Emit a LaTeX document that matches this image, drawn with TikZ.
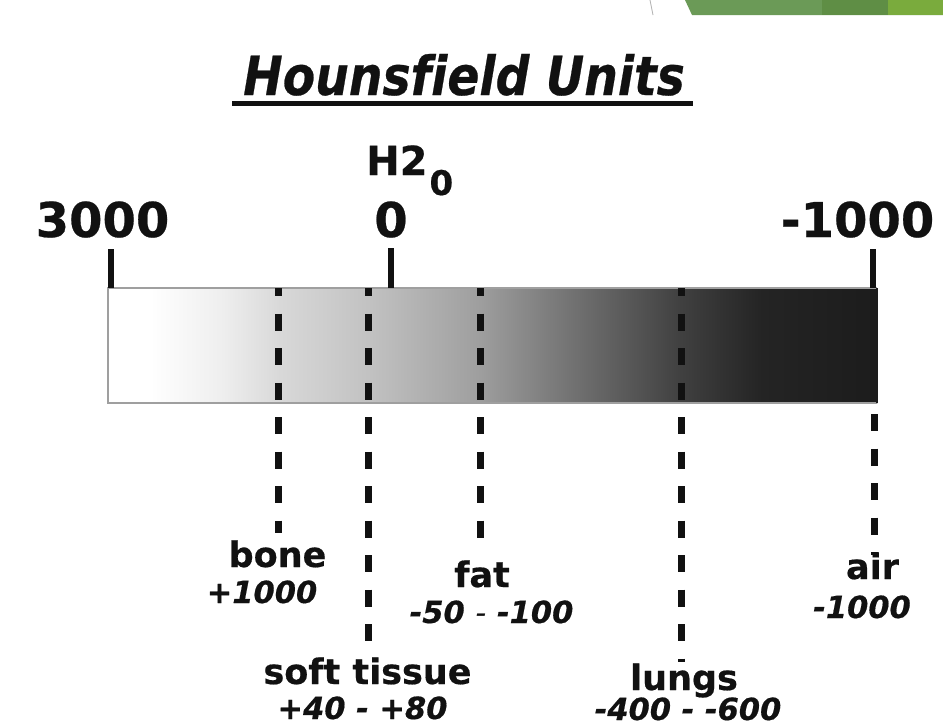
\documentclass[tikz,border=0pt]{standalone}
\usepackage{fontspec}
\setmainfont{DejaVu Sans}[Ligatures=NoCommon,BoldFeatures={FakeBold=0.5},BoldItalicFeatures={FakeBold=0.5}]
\definecolor{hbA}{HTML}{EEEEEE}
\definecolor{hbB}{HTML}{D8D8D8}
\definecolor{hbC}{HTML}{C2C2C2}
\definecolor{hbD}{HTML}{9E9E9E}
\definecolor{hbE}{HTML}{6E6E6E}
\definecolor{hbF}{HTML}{404040}
\definecolor{hbG}{HTML}{242424}
\definecolor{hbH}{HTML}{1C1C1C}
\definecolor{ink}{HTML}{111111}
\definecolor{grnA}{HTML}{6B9A57}
\definecolor{grnB}{HTML}{5F8E45}
\definecolor{grnC}{HTML}{7AAB3D}
\pgfdeclarehorizontalshading{hubar}{100bp}{color(0bp)=(white); color(25bp)=(white); color(27.75bp)=(white); color(32.5bp)=(hbA); color(36.2bp)=(hbB); color(41.9bp)=(hbC); color(49.2bp)=(hbD); color(55.7bp)=(hbE); color(62.25bp)=(hbF); color(67.5bp)=(hbG); color(75bp)=(hbH); color(100bp)=(hbH)}
\begin{document}
\begin{tikzpicture}[x=1pt,y=-1pt,
  scalelbl/.style={inner sep=0pt,outer sep=0pt,anchor=base,text=ink,font=\bfseries\fontsize{48}{48}\selectfont},
  namelbl/.style={inner sep=0pt,outer sep=0pt,anchor=base,text=ink,font=\bfseries\fontsize{35}{35}\selectfont},
  vallbl/.style={inner sep=0pt,outer sep=0pt,anchor=base,text=ink,font=\bfseries\itshape\fontsize{30.5}{30.5}\selectfont},
  tickline/.style={draw=ink,line width=6pt},
  hudash/.style={draw=ink,line width=7pt,dash pattern=on 17pt off 17.5pt,dash phase=9pt}]
\useasboundingbox (0,0) rectangle (943,726);
\fill[white] (0,0) rectangle (943,726);
% green banner top right
\fill[grnA] (685,0) -- (692,15) -- (943,15) -- (943,0) -- cycle;
\fill[grnB] (822,0) rectangle (888,15);
\fill[grnC] (888,0) rectangle (943,15);
\draw[gray!60,line width=0.8pt] (650,0) -- (653,15);
% title
\node[inner sep=0pt,anchor=base,text=ink,font=\bfseries\itshape\fontsize{54}{54}\selectfont] (title) at (464,95) {\scalebox{0.875}[1]{Hounsfield Units}};
\coordinate (ulL) at (232,103.5);
\coordinate (ulR) at (693,103.5);
\draw[ink,line width=5pt] (ulL) -- (ulR);
% scale numbers
\node[scalelbl] (n3000) at (102.5,237) {3000};
\node[scalelbl] (n0) at (391,237) {0};
\node[scalelbl] (n1000) at (857.5,237) {-1000};
\node[inner sep=0pt,anchor=base west,text=ink,font=\bfseries\fontsize{40}{40}\selectfont] (h2o) at (366,175) {H2\kern2pt\raisebox{-20pt}{\fontsize{34}{34}\selectfont 0}};
% bar
\shade[shading=hubar] (108,288) rectangle (877,403);
\draw[gray!75,line width=1.5pt] (877,288) -- (108,288) -- (108,403) -- (877,403);
\draw[hbH,line width=1.5pt] (877,288) -- (877,403);
\node[inner sep=0pt,minimum width=769pt,minimum height=115pt] (bar) at (492.5,345.5) {};
% ticks
\coordinate (t1a) at (111,249); \coordinate (t1b) at (111,288);
\coordinate (t2a) at (391,248); \coordinate (t2b) at (391,288);
\coordinate (t3a) at (873,249); \coordinate (t3b) at (873,288);
\draw[tickline] (t1a) -- (t1b);
\draw[tickline] (t2a) -- (t2b);
\draw[tickline] (t3a) -- (t3b);
% labels
\node[namelbl] (bone) at (277.5,567) {bone};
\node[vallbl] (bonev) at (262,603) {+1000};
\node[namelbl] (fat) at (482,587) {fat};
\node[vallbl] (fatv) at (491.5,623) {-50 {\mdseries -} -100};
\node[namelbl] (soft) at (367.5,684) {soft tissue};
\node[vallbl] (softv) at (362.5,719) {+40 - +80};
\node[namelbl] (lungs) at (684,690) {lungs};
\node[vallbl] (lungsv) at (688,720) {-400 - -600};
\node[namelbl] (air) at (872.5,579) {air};
\node[vallbl] (airv) at (862,618) {-1000};
% dashed connectors
\coordinate (boneT) at (278,288); \coordinate (boneE) at (278,533);
\coordinate (softT) at (368,288); \coordinate (softE) at (368,648);
\coordinate (fatT) at (480,288); \coordinate (fatE) at (480,548);
\coordinate (lungT) at (681,288); \coordinate (lungE) at (681,662);
\coordinate (airT) at (874,403); \coordinate (airE) at (874,555);
\draw[hudash] (boneT) -- (boneE);
\draw[hudash] (softT) -- (softE);
\draw[hudash] (fatT) -- (fatE);
\draw[hudash] (lungT) -- (lungE);
\draw[hudash,dash phase=-11pt] (airT) -- (airE);
\end{tikzpicture}
\end{document}
